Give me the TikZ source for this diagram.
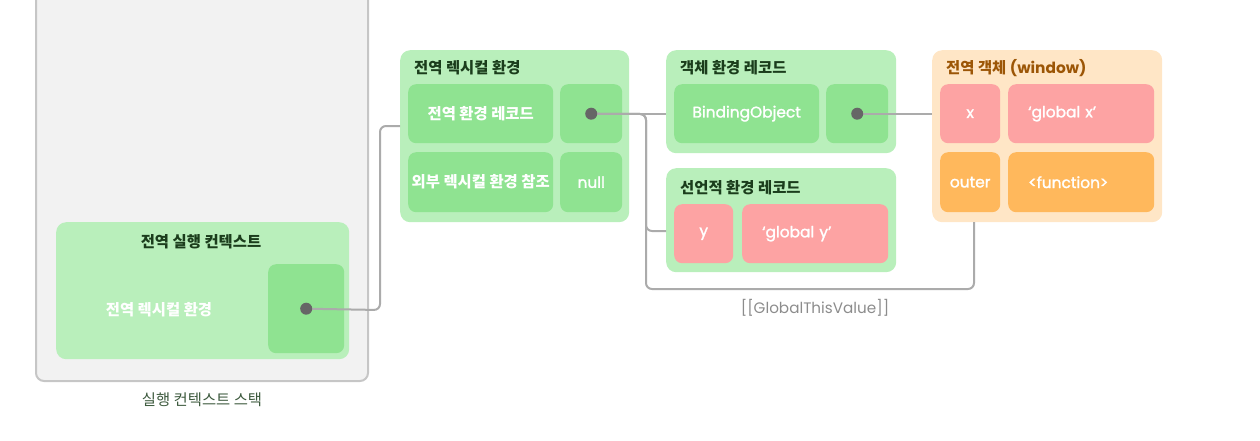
\documentclass[tikz,border=0pt]{standalone}
\usepackage{fontspec}
\setmainfont{Noto Sans CJK KR}
\newfontfamily\latin{Poppins}
\newfontfamily\latinmed{Poppins}[BoldFont=Poppins,BoldFeatures={FakeBold=1.6}]
\usepackage{tikz}
\usetikzlibrary{positioning}
\definecolor{stackfill}{HTML}{F2F2F2}
\definecolor{stackline}{HTML}{C6C6C6}
\definecolor{envlight}{HTML}{B9EFBB}
\definecolor{envcell}{HTML}{8FE391}
\definecolor{varcell}{HTML}{FDA3A3}
\definecolor{funcell}{HTML}{FFB85C}
\definecolor{objfill}{HTML}{FFE6C6}
\definecolor{titlegreen}{HTML}{1B3D1C}
\definecolor{titlebrown}{HTML}{9C5606}
\definecolor{linkgray}{HTML}{ABABAB}
\definecolor{dotgray}{HTML}{666666}
\definecolor{notegray}{HTML}{8C8C8C}

\begin{document}
\begin{tikzpicture}[x=1pt,y=-1pt,
  font=\fontsize{15.4}{18}\selectfont,
  box/.style={rounded corners=10pt,anchor=north west,inner sep=0pt},
  cell/.style={rounded corners=8pt,anchor=north west,inner sep=0pt,minimum height=59pt,text=white},
  latincell/.style={cell,font=\latinmed\bfseries\fontsize{15.4}{18}\selectfont},
  korcell/.style={cell,font=\bfseries\fontsize{15.4}{18}\selectfont},
  lefttext/.style={inner xsep=20pt,align=left},
  title/.style={anchor=west,inner xsep=0pt,font=\bfseries\fontsize{15.4}{18}\selectfont,text=titlegreen},
  link/.style={draw=linkgray,line width=2pt,rounded corners=6pt},
  dot/.style={circle,fill=dotgray,inner sep=0pt,minimum size=12pt}]
  \useasboundingbox (0,0) rectangle (1260,440);
  \clip (0,0) rectangle (1260,440);

  % Draw the execution context stack
  \node[box,fill=stackfill,draw=stackline,line width=2pt,rounded corners=8pt,minimum width=332pt,minimum height=400pt] (stack) at (35,-20) {};
  \node[text=titlegreen!85!white] (stacklabel) at (202,400) {실행 컨텍스트 스택};

  % Draw the global execution context
  \node[box,fill=envlight,minimum width=293pt,minimum height=137pt] (gec) at (56,222) {};
  \node[title,anchor=center] (gectitle) at (201,242) {전역 실행 컨텍스트};
  \node[text=white,font=\bfseries\fontsize{15.4}{18}\selectfont] (geclabel) at (159,310) {전역 렉시컬 환경};
  \node[cell,fill=envcell,minimum width=76pt,minimum height=89pt] (gecptr) at (268,264) {};

  % Draw the global lexical environment
  \node[box,fill=envlight,minimum width=229pt,minimum height=172pt] (gle) at (400,50) {};
  \node[title] (gletitle) at (414,68) {전역 렉시컬 환경};
  \node[korcell,fill=envcell,minimum width=145pt] (gerec) at (408,84) {전역 환경 레코드};
  \node[cell,fill=envcell,minimum width=62pt] (gerecptr) at (560,84) {};
  \node[korcell,fill=envcell,minimum width=145pt,minimum height=60pt] (outerref) at (408,152) {외부 렉시컬 환경 참조};
  \node[latincell,fill=envcell,minimum width=62pt,minimum height=60pt] (nullref) at (560,152) {null};

  % Draw the object environment record
  \node[box,fill=envlight,minimum width=230pt,minimum height=103pt] (oer) at (666,50) {};
  \node[title] (oertitle) at (680,68) {객체 환경 레코드};
  \node[latincell,fill=envcell,minimum width=145pt] (bindobj) at (674,84) {BindingObject};
  \node[cell,fill=envcell,minimum width=62pt] (bindptr) at (826,84) {};

  % Draw the declarative environment record
  \node[box,fill=envlight,minimum width=230pt,minimum height=104pt] (der) at (666,168) {};
  \node[title] (dertitle) at (680,188) {선언적 환경 레코드};
  \node[latincell,fill=varcell,minimum width=59pt] (yname) at (674,204) {y};
  \node[latincell,fill=varcell,lefttext,text width=106pt] (yval) at (742,204) {‘global y’};

  % Draw the global object
  \node[box,fill=objfill,minimum width=230pt,minimum height=172pt] (gobj) at (932,50) {};
  \node[title,text=titlebrown] (gobjtitle) at (946,68) {전역 객체 {\latin\bfseries(window)}};
  \node[latincell,fill=varcell,minimum width=60pt] (xname) at (940,84) {x};
  \node[latincell,fill=varcell,lefttext,text width=106pt] (xval) at (1008,84) {‘global x’};
  \node[latincell,fill=funcell,minimum width=60pt,minimum height=60pt] (outername) at (940,152) {outer};
  \node[latincell,fill=funcell,lefttext,text width=106pt,minimum height=60pt] (outerval) at (1008,152) {<function>};

  % Draw the connectors
  \coordinate (gleentry) at (400,126);
  \coordinate (derentry) at (666,231);
  \coordinate (gobjentry) at (974,222);
  \draw[link] (gecptr.center) -- (380,310) |- (gleentry);
  \draw[link] (gerecptr.center) -- (oer.west |- gerecptr.center);
  \draw[link] (gerecptr.center) -- (646,114) |- (derentry);
  \draw[link] (gerecptr.center) -- (646,114) -- (646,289) -| (gobjentry);
  \draw[link] (bindptr.center) -- (gobj.west |- bindptr.center);
  \node[text=notegray,font=\latin\fontsize{15.2}{18}\selectfont] (thislabel) at (815,308) {[[GlobalThisValue]]};

  % Draw the pointer dots
  \node[dot] (gecdot) at (gecptr.center) {};
  \node[dot] (gerecdot) at (gerecptr.center) {};
  \node[dot] (binddot) at (bindptr.center) {};
\end{tikzpicture}
\end{document}
